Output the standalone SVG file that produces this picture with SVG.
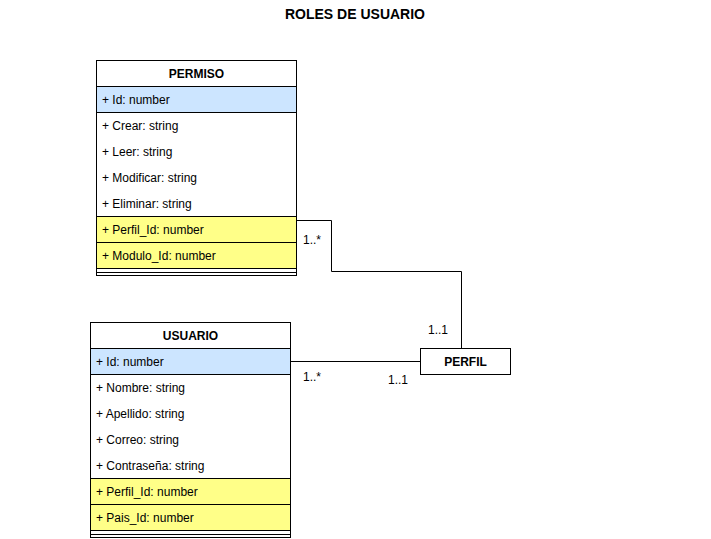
<svg xmlns="http://www.w3.org/2000/svg" width="711" height="539" viewBox="0 0 711 539">
<style>
text{font-family:"Liberation Sans",Arial,Helvetica,sans-serif;font-size:12px;fill:#000}
.h{font-weight:bold;text-anchor:middle}
.t{font-weight:bold;font-size:14px;text-anchor:middle}
.box{fill:#fff;stroke:#000;stroke-width:1}
.blue{fill:#cce5ff;stroke:#000}
.yel{fill:#ffff88;stroke:#000}
.row{fill:#fff;stroke:none}
.ln{fill:none;stroke:#000;stroke-width:1}
</style>
<rect width="711" height="539" fill="#fff"/>
<text class="t" x="355" y="19">ROLES DE USUARIO</text>
<g id="PERMISO">
<rect class="box" x="96.5" y="60.5" width="200" height="215"/>
<text class="h" x="196.5" y="78">PERMISO</text>
<rect class="blue" x="96.5" y="86.5" width="200" height="26"/>
<text x="102" y="104">+ Id: number</text>
<text x="102" y="130">+ Crear: string</text>
<text x="102" y="156">+ Leer: string</text>
<text x="102" y="182">+ Modificar: string</text>
<text x="102" y="208">+ Eliminar: string</text>
<rect class="yel" x="96.5" y="216.5" width="200" height="26"/>
<text x="102" y="234">+ Perfil_Id: number</text>
<rect class="yel" x="96.5" y="242.5" width="200" height="26"/>
<text x="102" y="260">+ Modulo_Id: number</text>
<line class="ln" x1="96.5" y1="272.5" x2="296.5" y2="272.5"/>
</g>
<g id="USUARIO">
<rect class="box" x="90.5" y="322.5" width="200" height="215"/>
<text class="h" x="190.5" y="340">USUARIO</text>
<rect class="blue" x="90.5" y="348.5" width="200" height="26"/>
<text x="96" y="366">+ Id: number</text>
<text x="96" y="392">+ Nombre: string</text>
<text x="96" y="418">+ Apellido: string</text>
<text x="96" y="444">+ Correo: string</text>
<text x="96" y="470">+ Contraseña: string</text>
<rect class="yel" x="90.5" y="478.5" width="200" height="26"/>
<text x="96" y="496">+ Perfil_Id: number</text>
<rect class="yel" x="90.5" y="504.5" width="200" height="26"/>
<text x="96" y="522">+ Pais_Id: number</text>
<line class="ln" x1="90.5" y1="534.5" x2="290.5" y2="534.5"/>
</g>
<g id="PERFIL">
<rect class="box" x="420.5" y="348.5" width="90" height="26"/>
<text class="h" x="465.5" y="366">PERFIL</text>
</g>
<g id="connectors">
<polyline class="ln" points="296.5,220.5 331.5,220.5 331.5,271.5 461.5,271.5 461.5,348.5"/>
<line class="ln" x1="290.5" y1="361.5" x2="420.5" y2="361.5"/>
<text x="303" y="244">1..*</text>
<text x="428" y="334">1..1</text>
<text x="303" y="381">1..*</text>
<text x="388" y="384">1..1</text>
</g>
</svg>
